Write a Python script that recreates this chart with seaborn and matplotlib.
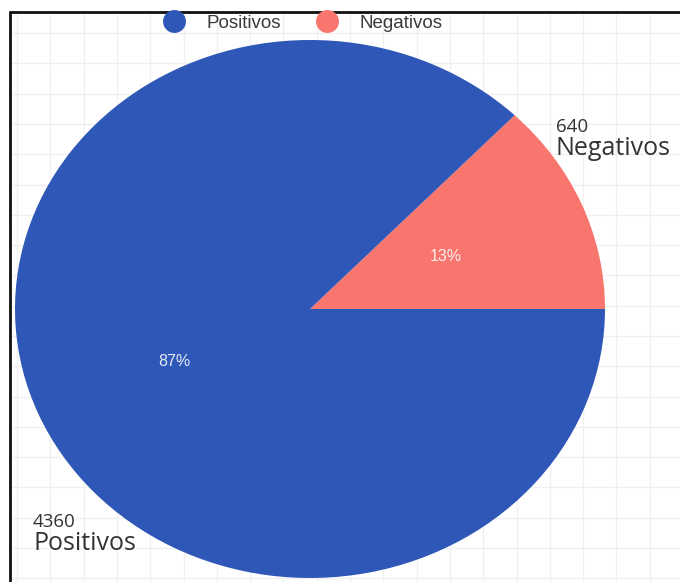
import matplotlib
matplotlib.use("Agg")
import matplotlib.pyplot as plt
from matplotlib.lines import Line2D
import seaborn as sns
import numpy as np

# Test results
categories = ["Negativos", "Positivos"]
counts = [640, 4360]
legend_order = ["Positivos", "Negativos"]
palette = {"Positivos": "#2F57B7", "Negativos": "#F8766D"}

sns.set_theme(style="white")
plt.rcParams["font.family"] = ["Open Sans", "DejaVu Sans"]

W, H = 680, 582
fig = plt.figure(figsize=(W / 100, H / 100), dpi=100)
fig.patch.set_facecolor("white")

def px(x0, y0, x1, y1):
    """Figure-fraction rectangle from pixel box (top-left origin)."""
    return [x0 / W, 1 - y1 / H, (x1 - x0) / W, (y1 - y0) / H]

# faint squared background
bg = fig.add_axes(px(10, 12, W, H))
bg.set_xlim(10, W)
bg.set_ylim(H, 12)
bg.set_xticks(np.arange(17, W, 33.3))
bg.set_yticks(np.arange(33, H, 30.3))
bg.grid(True, color="#F0F0F0", linewidth=1.0)
bg.tick_params(length=0, labelbottom=False, labelleft=False)
for s in bg.spines.values():
    s.set_visible(False)
bg.set_zorder(0)

# pie
ax = fig.add_axes(px(15, 40, 605, 578))
ax.set_zorder(1)
ax.patch.set_alpha(0)
wedges, _, autotexts = ax.pie(
    counts,
    colors=[palette[c] for c in categories],
    startangle=0,
    counterclock=True,
    autopct=lambda p: f"{p:.0f}%",
    pctdistance=0.5,
    textprops=dict(color="white", fontsize=11.5, family=["Liberation Sans"]),
    wedgeprops=dict(linewidth=0),
)
for t in autotexts:
    t.set_alpha(0.88)
ax.set_aspect("auto")
ax.set_xlim(-1, 1)
ax.set_ylim(-1, 1)
ax.axis("off")

# outer labels: count above category name
ink = "#333333"
fig.text(556 / W, 1 - 132 / H, f"{counts[0]}", fontsize=13.5, color=ink, va="baseline")
fig.text(556 / W, 1 - 155 / H, categories[0], fontsize=18, color=ink, va="baseline")
fig.text(33 / W, 1 - 527 / H, f"{counts[1]}", fontsize=13.5, color=ink, va="baseline")
fig.text(33 / W, 1 - 550 / H, categories[1], fontsize=18, color=ink, va="baseline")

# legend along the top
handles = [Line2D([], [], marker="o", linestyle="none", markersize=16.5,
                  markerfacecolor=palette[c], markeredgewidth=0) for c in legend_order]
leg = fig.legend(handles, legend_order, loc="center left",
                 bbox_to_anchor=(153 / W, 1 - 23 / H),
                 ncol=2, frameon=False, borderpad=0, handlelength=1.23,
                 columnspacing=1.84, handletextpad=1.12,
                 prop=dict(family="Liberation Sans", size=13.5))
for t in leg.get_texts():
    t.set_color("#3A3A3A")

# frame lines on top and left edge
fig.add_artist(Line2D([10 / W, 1], [1 - 12 / H, 1 - 12 / H], color="#111111", linewidth=2))
fig.add_artist(Line2D([10 / W, 10 / W], [0, 1 - 12 / H], color="#111111", linewidth=2))

fig.savefig("out.png", dpi=100)
